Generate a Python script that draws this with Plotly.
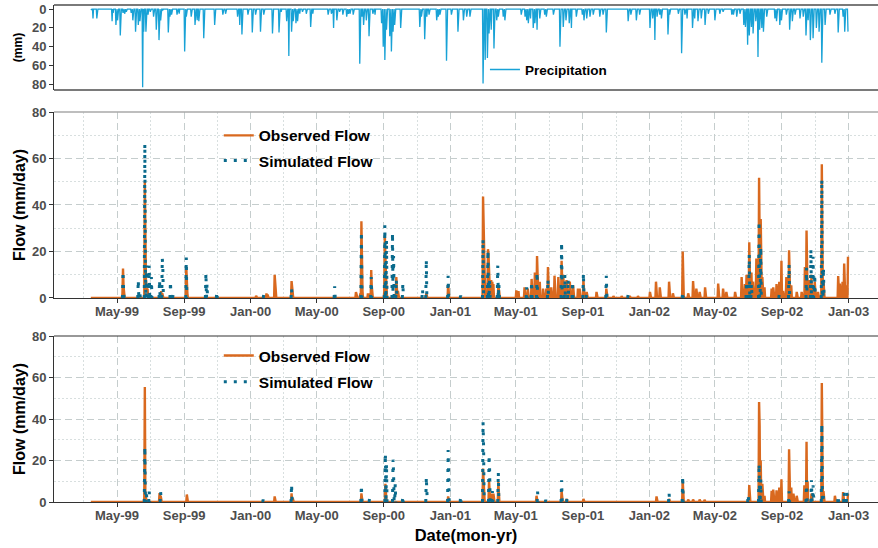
import numpy as np
import pandas as pd
import plotly.graph_objects as go

# ---------------- data (day = days since 1999-01-01) ----------------
ORIGIN = "1999-01-01"
RECORD_START_DAY = 72
RECORD_END_DAY = 1460

precip_day = [72, 76, 83, 111, 113, 118, 121, 126, 131, 134,
              137, 146, 149, 154, 159, 162, 167, 169, 173, 177,
              181, 187, 192, 197, 200, 204, 214, 217, 220, 230,
              234, 244, 247, 256, 263, 267, 270, 279, 299, 314,
              319, 341, 345, 349, 360, 368, 374, 383, 389, 405,
              417, 421, 431, 435, 440, 443, 448, 451, 455, 460,
              467, 475, 479, 507, 513, 517, 523, 528, 534, 541,
              544, 547, 553, 565, 569, 572, 577, 582, 589, 593,
              605, 608, 611, 614, 620, 623, 626, 629, 640, 675,
              678, 684, 688, 692, 706, 709, 712, 724, 733, 745,
              755, 761, 767, 791, 795, 799, 802, 806, 811, 816,
              819, 828, 831, 861, 868, 871, 874, 878, 883, 886,
              890, 895, 904, 907, 920, 932, 938, 943, 949, 953,
              962, 973, 976, 981, 987, 993, 1005, 1011, 1017, 1057,
              1062, 1072, 1078, 1097, 1102, 1106, 1110, 1115, 1118, 1130,
              1133, 1149, 1155, 1161, 1165, 1175, 1179, 1185, 1191, 1198,
              1204, 1216, 1225, 1231, 1247, 1250, 1256, 1262, 1269, 1272,
              1276, 1279, 1283, 1286, 1291, 1295, 1298, 1302, 1305, 1311,
              1326, 1329, 1335, 1338, 1347, 1353, 1358, 1363, 1372, 1378,
              1383, 1387, 1391, 1396, 1402, 1407, 1412, 1418, 1427, 1436,
              1442, 1451, 1454, 1460]
precip_mm = [1, 10, 10, 13, 4, 17, 12, 28, 4, 5,
             3, 4, 12, 24, 17, 13, 83, 24, 24, 6,
             3, 8, 22, 33, 12, 1, 25, 8, 6, 6,
             5, 45, 8, 8, 17, 12, 13, 31, 17, 6,
             5, 8, 17, 27, 6, 25, 6, 24, 6, 26,
             25, 3, 13, 50, 24, 13, 15, 13, 5, 3,
             5, 19, 5, 6, 5, 20, 12, 3, 6, 8,
             5, 5, 6, 58, 8, 17, 12, 29, 5, 6,
             15, 40, 54, 22, 29, 45, 24, 17, 20, 19,
             8, 32, 8, 6, 12, 8, 6, 55, 6, 24,
             12, 8, 8, 79, 54, 52, 26, 22, 42, 12,
             8, 8, 12, 6, 8, 12, 15, 10, 20, 15,
             22, 10, 6, 8, 6, 40, 19, 12, 15, 20,
             8, 6, 12, 10, 8, 6, 8, 6, 25, 13,
             6, 12, 6, 20, 10, 33, 8, 6, 10, 27,
             6, 5, 47, 6, 10, 20, 10, 13, 10, 17,
             5, 12, 5, 3, 6, 6, 8, 5, 17, 19,
             38, 28, 19, 26, 13, 51, 22, 20, 24, 8,
             10, 13, 17, 12, 6, 22, 13, 6, 10, 8,
             28, 12, 33, 31, 20, 24, 57, 17, 6, 5,
             25, 8, 24, 24]

# Calibration panel: observed / simulated flow (mm/day)
obs_cal_day = [130, 131, 132, 171, 172, 173, 174, 175, 176, 178,
               201, 203, 247, 248, 249, 375, 394, 396, 409, 410,
               440, 441, 442, 558, 559, 566, 568, 569, 570, 580,
               582, 586, 587, 610, 611, 612, 613, 632, 633, 635,
               687, 727, 728, 791, 792, 793, 794, 800, 801, 802,
               806, 808, 810, 819, 820, 852, 856, 867, 873, 880,
               886, 890, 891, 895, 901, 907, 910, 916, 922, 929,
               935, 938, 944, 950, 956, 965, 968, 975, 981, 999,
               1017, 1030, 1045, 1060, 1075, 1097, 1108, 1115, 1132, 1139,
               1157, 1167, 1176, 1182, 1188, 1198, 1222, 1231, 1237, 1253,
               1265, 1271, 1274, 1279, 1283, 1286, 1292, 1297, 1300, 1303,
               1307, 1320, 1323, 1329, 1334, 1338, 1341, 1347, 1352, 1356,
               1366, 1375, 1381, 1384, 1389, 1393, 1396, 1399, 1405, 1412,
               1413, 1415, 1442, 1445, 1450, 1453, 1456, 1460]
obs_cal_val = [2, 12.7, 5, 50, 20, 8, 5, 3, 4, 2,
               3, 2, 13.3, 5, 2, 1, 2, 1.5, 10, 5,
               7.3, 4, 3, 2.5, 1.5, 2, 33, 7, 3, 2,
               2, 12, 5, 3, 26.5, 18, 10, 9, 5, 3,
               2, 6, 2, 43.6, 23, 14, 10, 21, 19, 12,
               7.7, 7, 6, 5.5, 2.6, 3.3, 3, 4.6, 4, 8.2,
               11, 18, 10, 7, 4, 4, 13.3, 4.6, 9.6, 9,
               16, 10, 7.7, 7, 5.5, 4, 4, 7.7, 2.6, 2.6,
               4, 0.8, 0.8, 0.8, 0.8, 2.6, 7, 4.6, 7, 2,
               20, 2, 7.3, 4, 2.6, 4.6, 6.2, 4, 2.6, 2.6,
               9, 6, 10, 24, 11, 7, 17, 51.7, 34, 9,
               4.6, 4, 4.6, 6, 7, 16, 3, 9, 20.5, 5.5,
               2.6, 2.6, 13.3, 29, 7.7, 10, 4.6, 7, 2.6, 57.5,
               22, 7.7, 9.4, 6.2, 7, 14.8, 5.5, 17.7]
sim_cal_day = [131, 132, 159, 162, 171, 172, 174, 179, 183, 198,
               203, 204, 218, 223, 247, 283, 285, 303, 389, 440,
               519, 568, 586, 611, 614, 625, 627, 632, 644, 680,
               687, 727, 750, 791, 800, 803, 818, 820, 871, 880,
               890, 910, 935, 941, 947, 955, 975, 981, 1017, 1057,
               1157, 1274, 1279, 1283, 1297, 1300, 1334, 1352, 1384, 1392,
               1396, 1399, 1412, 1415]
sim_cal_val = [11.4, 4, 7.7, 1.5, 66.3, 14, 14, 14, 9, 7.7,
               17, 13, 7, 2, 17.4, 10.7, 6, 2.6, 1.5, 4,
               5, 28.5, 9, 31.3, 25, 28, 18, 8, 6.4, 3.8,
               16.5, 9.5, 1, 25.3, 20.5, 8, 14, 6, 4.6, 7,
               11, 8, 24, 10, 8, 7, 10.7, 2, 9.5, 1.5,
               2.6, 7, 18.6, 6, 33, 22, 1.5, 14.4, 13, 21,
               17.7, 10, 51, 13]

# Second run panel: observed / simulated flow (mm/day)
obs_val_day = [170, 171, 172, 173, 198, 200, 248, 409, 440, 442,
               568, 612, 613, 727, 791, 792, 802, 803, 806, 810,
               819, 820, 889, 935, 944, 975, 1109, 1132, 1157, 1158,
               1167, 1176, 1188, 1197, 1279, 1280, 1297, 1298, 1300, 1303,
               1307, 1320, 1323, 1329, 1334, 1338, 1352, 1356, 1360, 1366,
               1380, 1384, 1386, 1393, 1412, 1415, 1436, 1451, 1460]
obs_val_val = [2, 55.4, 3, 2, 4.3, 3, 3.6, 2.7, 4.2, 2,
               4.2, 8.8, 2.5, 2.7, 16.1, 9, 10.5, 4, 4, 4,
               9.7, 3, 3, 5.4, 1.5, 1.5, 2.7, 1.5, 10.5, 3,
               1.2, 1.2, 1.2, 1, 8.2, 3, 48.2, 37, 20, 8.8,
               3, 5.4, 6, 5.6, 7, 11, 25.4, 7, 4, 3,
               8, 29, 10, 4, 57.4, 5.3, 3, 4.8, 4]
sim_val_day = [171, 174, 179, 200, 388, 440, 568, 583, 612, 614,
               626, 627, 630, 644, 687, 688, 727, 728, 750, 791,
               792, 802, 803, 808, 819, 891, 906, 935, 945, 1132,
               1157, 1277, 1297, 1300, 1352, 1384, 1393, 1396, 1412, 1415,
               1442, 1453, 1458]
sim_val_val = [26.6, 4, 5, 4.8, 1.2, 8.5, 8, 1.6, 23.2, 18.4,
               20.4, 14, 8.5, 2.7, 12, 5, 25, 12, 2.7, 38.5,
               26.6, 22.6, 16, 5.3, 14.2, 5, 1, 10.5, 1.5, 4.4,
               12.4, 3.6, 18.4, 11, 5.2, 10.5, 10.5, 8, 37.6, 3,
               3, 4.6, 4.6]

tick_dates = ["1999-05-01", "1999-09-01", "2000-01-01", "2000-05-01",
              "2000-09-01", "2001-01-01", "2001-05-01", "2001-09-01",
              "2002-01-01", "2002-05-01", "2002-09-01", "2003-01-01"]
tick_labels = ["May-99", "Sep-99", "Jan-00", "May-00", "Sep-00", "Jan-01",
               "May-01", "Sep-01", "Jan-02", "May-02", "Sep-02", "Jan-03"]
minor_dates = ["1999-03-01", "1999-07-01", "1999-11-01", "2000-03-01",
               "2000-07-01", "2000-11-01", "2001-03-01", "2001-07-01",
               "2001-11-01", "2002-03-01", "2002-07-01", "2002-11-01"]
flow_ticks = [0, 20, 40, 60, 80]
flow_minor = [10, 30, 50, 70]
precip_ticks = [0, 20, 40, 60, 80]

for a, b in [(precip_day, precip_mm), (obs_cal_day, obs_cal_val),
             (sim_cal_day, sim_cal_val), (obs_val_day, obs_val_val),
             (sim_val_day, sim_val_val)]:
    assert len(a) == len(b), (len(a), len(b))

# ---------------- build daily series ----------------
days = np.arange(RECORD_START_DAY, RECORD_END_DAY + 1)
dates = pd.Timestamp(ORIGIN) + pd.to_timedelta(days, unit="D")


def daily(ev_day, ev_val):
    s = pd.Series(0.0, index=days)
    s.loc[ev_day] = ev_val
    return s.values


def sparse_view(vals):
    # hide long runs of zeros (simulated series only shows near events)
    v = vals.astype(float).copy()
    z = v == 0
    prev_z = np.r_[True, z[:-1]]
    next_z = np.r_[z[1:], True]
    v[z & prev_z & next_z] = np.nan
    return v


precip = daily(precip_day, precip_mm)
obs_cal = daily(obs_cal_day, obs_cal_val)
sim_cal = sparse_view(daily(sim_cal_day, sim_cal_val))
obs_val = daily(obs_val_day, obs_val_val)
sim_val = sparse_view(daily(sim_val_day, sim_val_val))

# ---------------- styling ----------------
PRECIP_COL = "#18a2d6"
OBS_COL = "#d9691f"
SIM_COL = "#0a6a8c"
FONT = "Liberation Sans, Arial, sans-serif"
TICK_FONT = dict(family=FONT, size=13, color="#4d4d4d", weight="bold")
MAJ_GRID = "#c5cdcd"
MIN_GRID = "#d8dfdf"

x_start = pd.Timestamp(ORIGIN) + pd.Timedelta(days=4.5)
x_end = pd.Timestamp(ORIGIN) + pd.Timedelta(days=1515)

fig = go.Figure()

fig.add_trace(go.Scatter(x=dates, y=precip, mode="lines", name="Precipitation",
                         line=dict(color=PRECIP_COL, width=1.3),
                         xaxis="x", yaxis="y", legend="legend"))
fig.add_trace(go.Scatter(x=dates, y=obs_cal, mode="lines", name="Observed Flow",
                         line=dict(color=OBS_COL, width=2.4),
                         xaxis="x2", yaxis="y2", legend="legend2", legendgroup="o1"))
fig.add_trace(go.Scatter(x=dates, y=sim_cal, mode="lines", name="Simulated Flow",
                         line=dict(color=SIM_COL, width=3, dash="3px,7px"),
                         connectgaps=False,
                         xaxis="x2", yaxis="y2", legend="legend2", legendgroup="s1"))
fig.add_trace(go.Scatter(x=dates, y=obs_val, mode="lines", name="Observed Flow",
                         line=dict(color=OBS_COL, width=2.4),
                         xaxis="x3", yaxis="y3", legend="legend3", legendgroup="o2"))
fig.add_trace(go.Scatter(x=dates, y=sim_val, mode="lines", name="Simulated Flow",
                         line=dict(color=SIM_COL, width=3, dash="3px,7px"),
                         connectgaps=False,
                         xaxis="x3", yaxis="y3", legend="legend3", legendgroup="s2"))

xcommon = dict(range=[x_start, x_end], type="date", automargin=False,
               tickvals=tick_dates, ticktext=tick_labels, tickfont=TICK_FONT,
               zeroline=False)
xflow = dict(xcommon, showgrid=True, gridcolor=MAJ_GRID, griddash="7px,4px",
             gridwidth=1.1, ticks="outside", ticklen=4, tickcolor="#333333",
             ticklabelstandoff=-3,
             showline=True, linecolor="#333333", linewidth=1,
             minor=dict(tickvals=minor_dates, showgrid=True, gridcolor=MIN_GRID,
                        griddash="2px,2px", gridwidth=1, ticks=""))
yflow = dict(range=[0, 80], tickvals=flow_ticks, tickfont=TICK_FONT,
             showgrid=True, gridcolor=MAJ_GRID, griddash="7px,4px", gridwidth=1.1,
             ticks="outside", ticklen=4, tickcolor="#333333", zeroline=False,
             showline=True, linecolor="#333333", linewidth=1, automargin=False,
             minor=dict(tickvals=flow_minor, showgrid=True, gridcolor=MIN_GRID,
                        griddash="2px,2px", gridwidth=1, ticks=""),
             title=dict(text="Flow (mm/day)", standoff=2,
                        font=dict(family=FONT, size=16, color="black", weight="bold")))

legend_font = dict(family=FONT, size=15.5, color="black", weight="bold")

fig.update_layout(
    width=878, height=548,
    margin=dict(l=54, r=0, t=5, b=46),
    paper_bgcolor="white", plot_bgcolor="white",
    xaxis=dict(xcommon, anchor="y", domain=[0, 1], showticklabels=False,
               showgrid=False, ticks="", showline=False),
    yaxis=dict(domain=[0.829, 1.0], anchor="x", range=[86, -4.3],
               tickvals=precip_ticks, tickfont=TICK_FONT, showgrid=False,
               ticks="outside", ticklen=4, tickcolor="#333333", zeroline=False,
               showline=True, linecolor="#333333", linewidth=1, automargin=False,
               title=dict(text="(mm)", standoff=6,
                          font=dict(family=FONT, size=12, color="black", weight="bold"))),
    xaxis2=dict(xflow, anchor="y2", domain=[0, 1]),
    yaxis2=dict(yflow, domain=[0.4105, 0.7847], anchor="x2"),
    xaxis3=dict(xflow, anchor="y3", domain=[0, 1],
                title=dict(text="Date(mon-yr)", standoff=7,
                           font=dict(family=FONT, size=16.5, color="black", weight="bold"))),
    yaxis3=dict(yflow, domain=[0, 0.334], anchor="x3"),
    legend=dict(x=0.523, y=0.901, xanchor="left", yanchor="top",
                bgcolor="rgba(0,0,0,0)", borderwidth=0,
                font=dict(family=FONT, size=13.5, color="black", weight="bold")),
    legend2=dict(x=0.200, y=0.771, xanchor="left", yanchor="top",
                 bgcolor="rgba(0,0,0,0)", borderwidth=0, tracegroupgap=2,
                 font=legend_font),
    legend3=dict(x=0.200, y=0.328, xanchor="left", yanchor="top",
                 bgcolor="rgba(0,0,0,0)", borderwidth=0, tracegroupgap=3,
                 font=legend_font),
    showlegend=True,
    shapes=[
        dict(type="line", xref="x domain", yref="y domain", x0=0, x1=1, y0=1, y1=1,
             line=dict(color="#7a7a7a", width=2)),
        dict(type="line", xref="x domain", yref="y domain", x0=0, x1=1, y0=0, y1=0,
             line=dict(color="#7a7a7a", width=2)),
        dict(type="line", xref="x2 domain", yref="y2 domain", x0=0, x1=1, y0=1, y1=1,
             line=dict(color="#a8a8a8", width=1.6)),
        dict(type="line", xref="x3 domain", yref="y3 domain", x0=0, x1=1, y0=1, y1=1,
             line=dict(color="#333333", width=1.2)),
    ],
)

fig.write_html("out.html", config={"displayModeBar": False},
               post_script="document.body.style.margin='0';document.body.style.padding='0';")
